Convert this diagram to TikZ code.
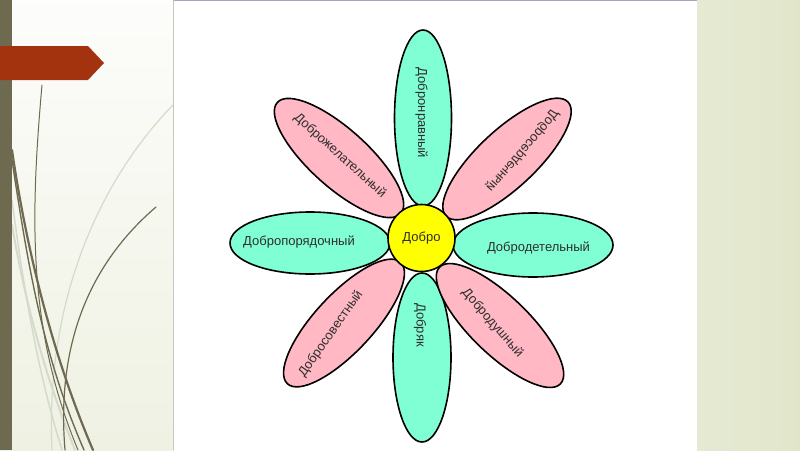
\documentclass[tikz,border=0pt]{standalone}
\usepackage{fontspec}
\usepackage{graphicx}
\setmainfont{Liberation Sans}
\usetikzlibrary{shapes.geometric}
\definecolor{petalgreen}{HTML}{80FFD4}
\definecolor{petalpink}{HTML}{FFB8C4}
\definecolor{coreyellow}{HTML}{FFFF00}
\definecolor{labelgray}{HTML}{2E2E2E}
\definecolor{olive}{HTML}{6E6A50}
\definecolor{lightgrass}{HTML}{D6DACB}
\definecolor{bannerred}{HTML}{A3330F}
\definecolor{sidegreen}{HTML}{E1E6CB}
\definecolor{paneltop}{HTML}{A4A4C4}
\begin{document}
\begin{tikzpicture}[x=1pt,y=-1pt,
  petal/.style={ellipse, draw=black, line width=1.6pt, inner sep=0pt},
  greenpetal/.style={petal, fill=petalgreen},
  pinkpetal/.style={petal, fill=petalpink},
  lbl/.style={font=\fontsize{13}{15}\selectfont, text=labelgray, inner sep=0pt},
  darkgrass/.style={draw=olive, line cap=round},
  palegrass/.style={draw=lightgrass, line cap=round}]
\useasboundingbox (0,0) rectangle (800,450);
% backgrounds
\shade[top color=white!60!sidegreen!20, bottom color=sidegreen!55] (0,0) rectangle (174,450);
\shade[left color=sidegreen!85, right color=sidegreen] (697,0) rectangle (800,450);
\fill[white] (174,0) rectangle (697,450);
\draw[paneltop, line width=0.8pt] (174,0.4) -- (697,0.4);
\draw[lightgrass!80!gray, line width=0.5pt] (173.5,0) -- (173.5,450);
% grass lines
\draw[palegrass, line width=1.2pt] (173,105) .. controls (100,180) and (45,300) .. (52,450);
\draw[palegrass, line width=2pt] (12,225) .. controls (30,330) and (55,400) .. (75,450);
\draw[palegrass, line width=1.5pt] (12,200) .. controls (25,300) and (40,380) .. (62,450);
\draw[darkgrass, line width=1pt] (42,85) .. controls (30,220) and (28,330) .. (78,450);
\draw[darkgrass, line width=2.2pt] (12,150) .. controls (25,240) and (50,350) .. (93,450);
\draw[darkgrass, line width=1.4pt] (12,160) .. controls (30,280) and (45,360) .. (84,450);
\draw[darkgrass, line width=1.2pt] (156,207) .. controls (100,255) and (55,330) .. (65,450);
% side bar and banner
\fill[olive] (0,0) rectangle (12,450);
\fill[bannerred] (0,46) -- (88,46) -- (104,63) -- (88,80) -- (0,80) -- cycle;
% petals
\node[greenpetal, minimum width=57pt, minimum height=176pt] (ptop) at (423,118) {};
\node[greenpetal, minimum width=58pt, minimum height=169pt] (pbottom) at (422,357.5) {};
\node[greenpetal, minimum width=160pt, minimum height=62pt] (pleft) at (310,243) {};
\node[greenpetal, minimum width=160pt, minimum height=64pt] (pright) at (533,245) {};
\node[pinkpetal, minimum width=166pt, minimum height=58pt, rotate=-42] (pul) at (339,158) {};
\node[pinkpetal, minimum width=167pt, minimum height=58pt, rotate=43] (pur) at (507,159) {};
\node[pinkpetal, minimum width=166pt, minimum height=58pt, rotate=47] (pll) at (344,323) {};
\node[pinkpetal, minimum width=168pt, minimum height=58pt, rotate=-44] (plr) at (500,325.5) {};
% centre
\node[circle, draw=black, line width=1.6pt, fill=coreyellow, minimum size=67pt, inner sep=0pt, lbl] (core) at (421.5,238) {Добро};
% labels
\node[lbl, rotate=-90] (ttop) at (421.5,113) {Добронравный};
\node[lbl, rotate=-90] (tbottom) at (420,325) {Добряк};
\node[lbl] (tleft) at (299,242.5) {Добропорядочный};
\node[lbl] (tright) at (538.5,248) {Добродетельный};
\node[lbl, rotate=-42] (tul) at (340,155.7) {Доброжелательный};
\node[lbl, rotate=49] (tur) at (522.5,150.8) {\reflectbox{Добросердечный}};
\node[lbl, rotate=55] (tll) at (330.8,334) {Добросовестный};
\node[lbl, rotate=-49] (tlr) at (492.5,323) {Добродушный};
\end{tikzpicture}
\end{document}
